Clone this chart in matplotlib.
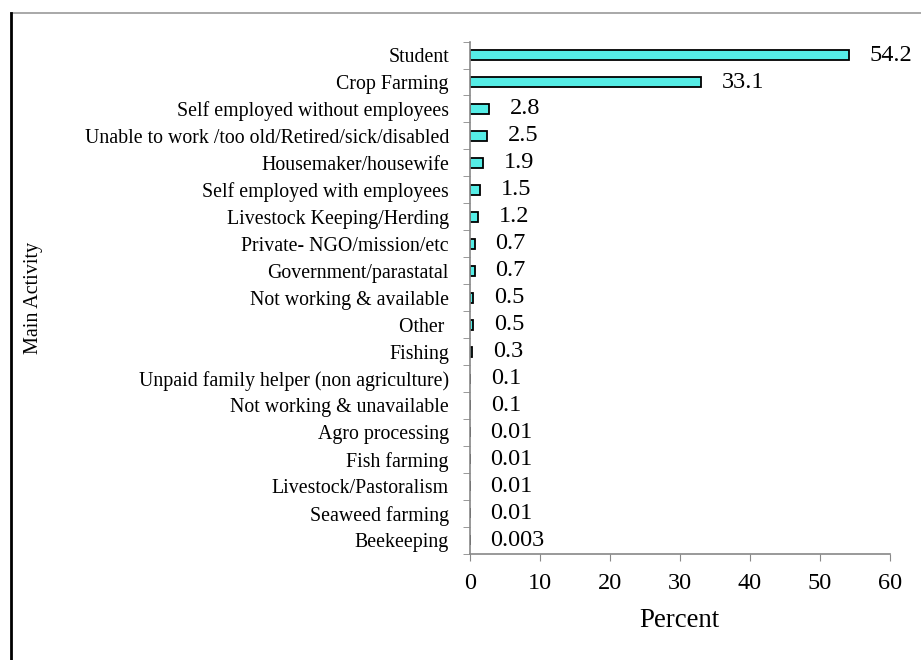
import matplotlib
matplotlib.use("Agg")
import matplotlib.pyplot as plt
from matplotlib.lines import Line2D
import numpy as np

# данные (сверху вниз)
activities = [
    "Student", "Crop Farming", "Self employed without employees",
    "Unable to work /too old/Retired/sick/disabled", "Housemaker/housewife",
    "Self employed with employees", "Livestock Keeping/Herding",
    "Private- NGO/mission/etc", "Government/parastatal",
    "Not working & available", "Other ", "Fishing",
    "Unpaid family helper (non agriculture)", "Not working & unavailable",
    "Agro processing", "Fish farming", "Livestock/Pastoralism",
    "Seaweed farming", "Beekeeping",
]
percent = [54.2, 33.1, 2.8, 2.5, 1.9, 1.5, 1.2, 0.7, 0.7, 0.5, 0.5, 0.3,
           0.1, 0.1, 0.01, 0.01, 0.01, 0.01, 0.003]
value_labels = ["54.2", "33.1", "2.8", "2.5", "1.9", "1.5", "1.2", "0.7", "0.7",
                "0.5", "0.5", "0.3", "0.1", "0.1", "0.01", "0.01", "0.01",
                "0.01", "0.003"]

plt.rcParams['font.family'] = ['Liberation Serif', 'DejaVu Serif']

fig = plt.figure(figsize=(9.21, 6.6), dpi=100)
ax = fig.add_axes([0.510, 0.161, 0.456, 0.776])

y = np.arange(len(activities))
ax.barh(y, percent, height=0.37, color="#55EDE6", edgecolor="black", linewidth=1.3)

# подписи значений справа от столбцов
for yi, v, lab in zip(y, percent, value_labels):
    ax.annotate(lab, (v, yi), xytext=(15, 0), textcoords="offset points",
                va="center", ha="left", fontsize=17.5)

ax.set_ylim(len(activities) - 0.5, -0.5)
ax.set_xlim(0, 60)
ax.set_xticks(range(0, 61, 10))
ax.tick_params(axis="x", labelsize=17.5, direction="out", length=5, color="#888888", pad=9)

# метки категорий без штрихов, штрихи между категориями
ax.set_yticks(y)
ax.set_yticklabels(activities, fontsize=14.3)
ax.tick_params(axis="y", length=0, pad=15)
ax.set_yticks(np.arange(-0.5, len(activities), 1), minor=True)
ax.tick_params(axis="y", which="minor", direction="out", length=5, color="#888888")

for s in ["top", "right"]:
    ax.spines[s].set_visible(False)
for s in ["left", "bottom"]:
    ax.spines[s].set_color("#888888")
    ax.spines[s].set_linewidth(1.2)

ax.set_xlabel("Percent", fontsize=19.4, labelpad=10)
fig.text(0.036, 0.549, "Main Activity", rotation=90, va="center", ha="center", fontsize=14.5)

# рамка рисунка
fig.add_artist(Line2D([0.012, 1.0], [0.980, 0.980], color="#999999", lw=1.2, transform=fig.transFigure))
fig.add_artist(Line2D([0.012, 0.012], [0.0, 0.980], color="black", lw=2, transform=fig.transFigure))

fig.savefig("out.png", dpi=100)
